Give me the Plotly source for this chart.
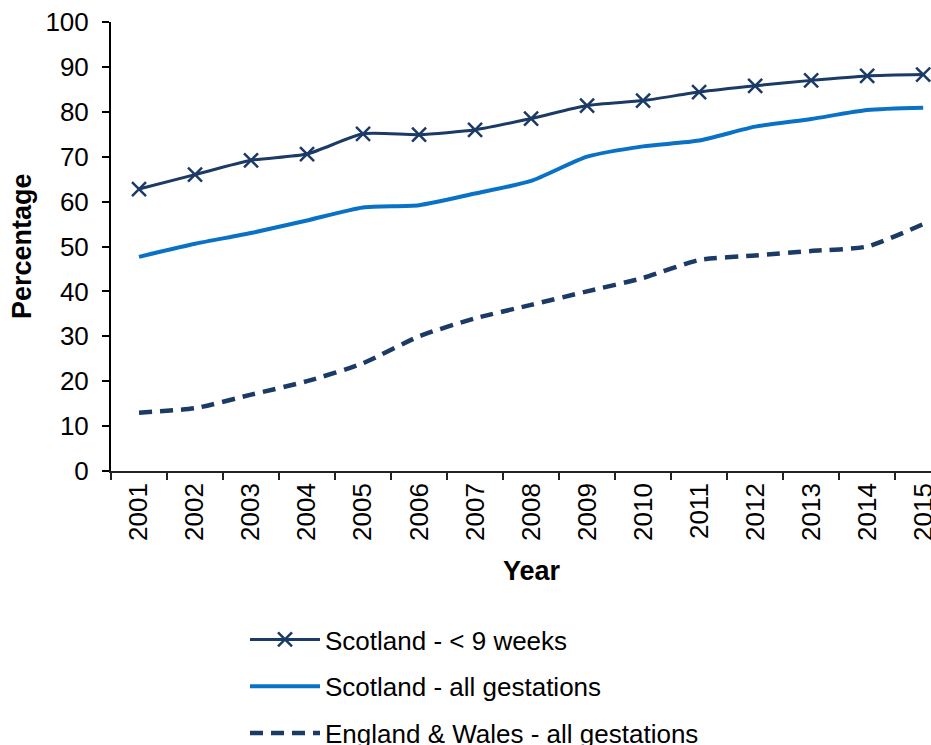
import plotly.graph_objects as go

years = [str(y) for y in range(2001, 2016)]
scotland_under9 = [62.8, 66.0, 69.2, 70.6, 75.1, 74.9, 76.0, 78.5, 81.4, 82.5, 84.4, 85.8, 87.0, 88.0, 88.3]
scotland_all = [47.7, 50.6, 53.0, 55.8, 58.7, 59.2, 61.8, 64.6, 70.0, 72.3, 73.6, 76.7, 78.4, 80.4, 80.9]
england_wales_all = [13, 14, 17, 20, 24, 30, 34, 37, 40, 43, 47, 48, 49, 50, 55]

NAVY = "#1b3a66"
BLUE = "#0a72c6"
FONT = "Liberation Sans, Arial, sans-serif"

W, H = 931, 745
L, T = 111, 22
PLOT_W, PLOT_H = W - L, 471 - T


def px_x(p):
    return (p - L) / PLOT_W


def px_y(p):
    return (471 - p) / PLOT_H


fig = go.Figure()
fig.add_trace(go.Scatter(
    x=years, y=scotland_under9, name="Scotland - < 9 weeks",
    mode="lines+markers", legendgroup="a",
    line=dict(color=NAVY, width=3, shape="spline", smoothing=0.6),
    marker=dict(symbol="x-thin", size=14, line=dict(color=NAVY, width=2.5)),
))
fig.add_trace(go.Scatter(
    x=years, y=scotland_all, name="Scotland - all gestations",
    mode="lines", legendgroup="b",
    line=dict(color=BLUE, width=4, shape="spline", smoothing=0.6),
))
fig.add_trace(go.Scatter(
    x=years, y=england_wales_all, name="England & Wales - all gestations",
    mode="lines", legendgroup="c",
    line=dict(color=NAVY, width=4.5, shape="spline", smoothing=0.6, dash="13px,8px"),
))

fig.update_layout(
    width=W, height=H,
    margin=dict(l=L, r=0, t=T, b=H - 471, pad=0, autoexpand=False),
    paper_bgcolor="white", plot_bgcolor="white",
    font=dict(family=FONT, size=26, color="black"),
    showlegend=True,
    legend=dict(
        orientation="v", x=245 / W, y=1 - 616 / H, xanchor="left", yanchor="top",
        xref="container", yref="container",
        font=dict(family=FONT, size=26, color="black"),
        tracegroupgap=10, itemwidth=70,
        bgcolor="rgba(0,0,0,0)",
    ),
    xaxis=dict(
        type="category", range=[-0.5, 14.14],
        showline=True, linecolor="#222", linewidth=1.5,
        ticks="outside", ticklen=7, tickwidth=1.5, tickcolor="#222",
        tickson="boundaries", tickangle=-90,
        showgrid=False, zeroline=False,
        tickfont=dict(family=FONT, size=26, color="black"),
    ),
    yaxis=dict(
        range=[0, 100], tickmode="array", tickvals=list(range(0, 101, 10)),
        showline=True, linecolor="black", linewidth=2,
        ticks="outside", ticklen=7, tickwidth=2, tickcolor="black",
        showgrid=False, zeroline=False,
        ticklabelstandoff=8,
        tickfont=dict(family=FONT, size=26, color="black"),
    ),
    annotations=[
        dict(text="<b>Year</b>", x=px_x(532), y=px_y(571), xref="paper", yref="paper",
             showarrow=False, xanchor="center", yanchor="middle",
             font=dict(family=FONT, size=27, color="black")),
        dict(text="<b>Percentage</b>", x=px_x(22), y=px_y(246), xref="paper", yref="paper",
             showarrow=False, xanchor="center", yanchor="middle", textangle=-90,
             font=dict(family=FONT, size=27, color="black")),
    ],
)

fig.write_html("out.html")
